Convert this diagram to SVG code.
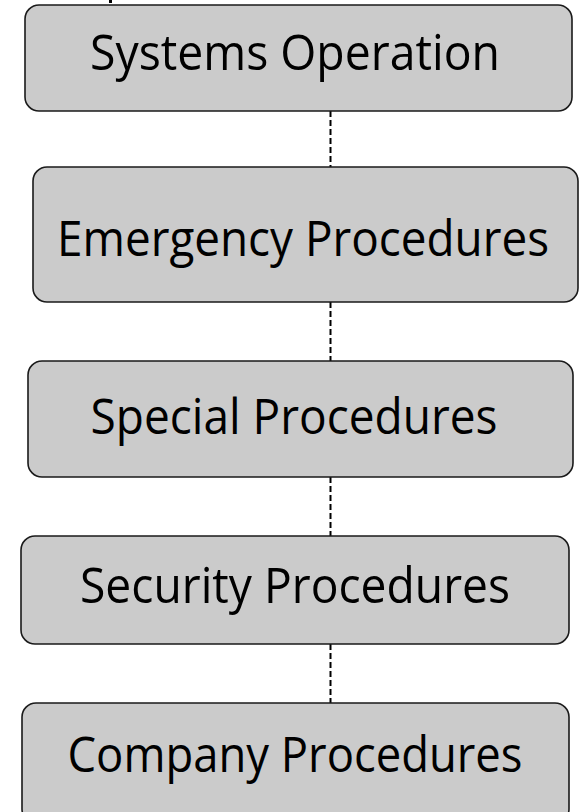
<svg xmlns="http://www.w3.org/2000/svg" width="579" height="812" viewBox="0 0 579 812">
  <style>
    .box { fill: #cbcbcb; stroke: #1a1a1a; stroke-width: 1.6; }
    .label { font-family: "Open Sans", "Liberation Sans", sans-serif; font-size: 50px; fill: #000; text-anchor: middle; }
    .link { stroke: #000; stroke-width: 2; stroke-dasharray: 6 3; fill: none; }
  </style>
  <rect width="579" height="812" fill="#ffffff"/>
  <!-- clipped descender from the heading above the chart -->
  <rect x="109" y="0" width="3" height="3" fill="#000"/>

  <g id="connectors">
    <line class="link" x1="330.5" y1="111" x2="330.5" y2="167"/>
    <line class="link" x1="330.5" y1="302" x2="330.5" y2="362"/>
    <line class="link" x1="330.5" y1="477" x2="330.5" y2="537"/>
    <line class="link" x1="330.5" y1="644" x2="330.5" y2="703"/>
  </g>

  <g id="systems-operation">
    <rect class="box" x="25" y="5" width="547" height="106" rx="14"/>
    <text class="label" x="295" y="70" textLength="410" lengthAdjust="spacingAndGlyphs">Systems Operation</text>
  </g>
  <g id="emergency-procedures">
    <rect class="box" x="33" y="167" width="545" height="135" rx="14"/>
    <text class="label" x="303" y="256" textLength="492" lengthAdjust="spacingAndGlyphs">Emergency Procedures</text>
  </g>
  <g id="special-procedures">
    <rect class="box" x="28" y="361" width="545" height="116" rx="14"/>
    <text class="label" x="294" y="434" textLength="407" lengthAdjust="spacingAndGlyphs">Special Procedures</text>
  </g>
  <g id="security-procedures">
    <rect class="box" x="21" y="536" width="548" height="108" rx="14"/>
    <text class="label" x="295" y="603" textLength="430" lengthAdjust="spacingAndGlyphs">Security Procedures</text>
  </g>
  <g id="company-procedures">
    <rect class="box" x="22" y="703" width="547" height="120" rx="14"/>
    <text class="label" x="295" y="772" textLength="455" lengthAdjust="spacingAndGlyphs">Company Procedures</text>
  </g>
</svg>
